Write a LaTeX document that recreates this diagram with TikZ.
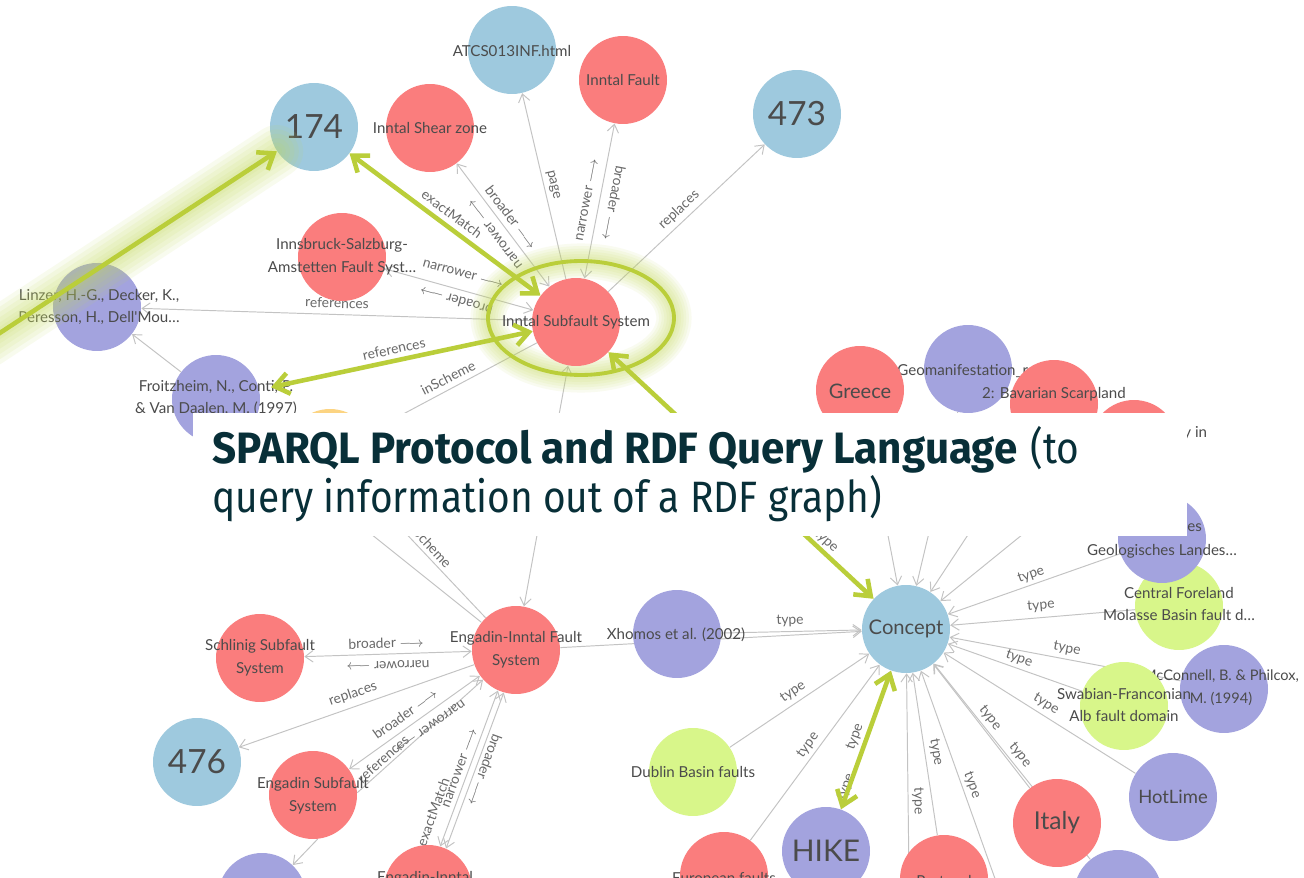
\documentclass[tikz,border=0pt]{standalone}
\usepackage{fontspec}
\newfontfamily\gfont{Lato}
\newfontfamily\sfontb[FakeStretch=0.96]{Fira Sans}
\newfontfamily\sfontr[FakeStretch=0.885]{Fira Sans}
\usetikzlibrary{arrows.meta}
\pgfdeclarelayer{bg}
\pgfsetlayers{bg,main}
\definecolor{nred}{RGB}{250,125,125}
\definecolor{nblue}{RGB}{158,201,222}
\definecolor{npurple}{RGB}{163,163,222}
\definecolor{ngreen}{RGB}{216,246,138}
\definecolor{norange}{RGB}{252,212,130}
\definecolor{ntext}{RGB}{75,75,75}
\definecolor{etext}{RGB}{105,105,105}
\definecolor{egray}{RGB}{195,195,195}
\definecolor{hlgreen}{RGB}{186,206,58}
\definecolor{glowgreen}{RGB}{195,218,90}
\definecolor{sparql}{RGB}{8,47,56}
\begin{document}
\begin{tikzpicture}[x=0.02cm,y=-0.02cm,
  nd/.style={circle, minimum size=1.76cm, inner sep=0pt},
  rednd/.style={nd, fill=nred},
  bluend/.style={nd, fill=nblue},
  purnd/.style={nd, fill=npurple},
  grnnd/.style={nd, fill=ngreen},
  orgnd/.style={nd, fill=norange},
  lbl/.style={text=ntext, align=center, inner sep=0pt, font=\gfont\fontsize{8.6}{13}\selectfont},
  big/.style={lbl, font=\gfont\fontsize{19}{22}\selectfont},
  elbl/.style={text=etext, inner sep=0pt, font=\gfont\fontsize{7.9}{9}\selectfont},
  edge/.style={draw=egray, line width=0.55pt, -{Straight Barb[length=4.5pt,width=6.5pt]}},
  edgeb/.style={draw=egray, line width=0.55pt, {Straight Barb[length=4.5pt,width=6.5pt]}-{Straight Barb[length=4.5pt,width=6.5pt]}},
  plainedge/.style={draw=egray, line width=0.55pt},
  hl/.style={draw=hlgreen, line width=2.6pt, -{Straight Barb[length=8pt,width=12pt]}},
  hlb/.style={draw=hlgreen, line width=2.6pt, {Straight Barb[length=8pt,width=12pt]}-{Straight Barb[length=8pt,width=12pt]}},
  glow/.style={draw=glowgreen, line cap=round, line join=round}
]
\useasboundingbox (0,0) rectangle (1304,878);

% ---------------- nodes ----------------
\node[bluend] (n174) at (314,127) {};
\node[big] (t174) at (n174) {174};
\node[rednd] (isz) at (430,128) {};
\node[lbl] (tisz) at (isz) {Inntal Shear zone};
\node[bluend] (atcs) at (512,50) {};
\node[lbl] (tatcs) at (512,51) {ATCS013INF.html};
\node[rednd] (ift) at (623,80) {};
\node[lbl] (tift) at (ift) {Inntal Fault};
\node[bluend] (n473) at (797,114) {};
\node[big] (t473) at (n473) {473};
\node[rednd] (isa) at (342,257) {};
\node[lbl] (tisa) at (342,257) {Innsbruck-Salzburg-\\Amstetten Fault Syst…};
\node[purnd] (linz) at (97,307) {};
\node[lbl] (tlinz) at (99,307) {Linzer, H.-G., Decker, K.,\\Peresson, H., Dell'Mou…};
\node[purnd] (froi) at (216,399) {};
\node[lbl] (tfroi) at (216,398) {Froitzheim, N., Conti, P.\\\& Van Daalen, M. (1997)};
\node[rednd] (iss) at (576,322) {};
\node[lbl] (tiss) at (iss) {Inntal Subfault System};
\node[orgnd] (orng) at (330,453) {};

\node[purnd] (geo) at (968,369) {};
\node[lbl, anchor=west] (tgeo) at (897,371) {Geomanifestation\_r};
\node[rednd] (greece) at (860,390) {};
\node[lbl, font=\gfont\fontsize{11.4}{13}\selectfont] (tgreece) at (860,391) {Greece};
\node[rednd] (bav) at (1054,404) {};
\node[lbl] (tbav) at (1054,394) {2: Bavarian Scarpland};
\node[rednd] (redy) at (1134,444) {};
\node[lbl, anchor=west] (tredy) at (1183,433) {y in};

\node[grnnd] (cfor) at (1179,606) {};
\node[lbl] (tcfor) at (1179,604) {Central Foreland\\Molasse Basin fault d…};
\node[purnd] (geol) at (1162,539) {};
\node[lbl, anchor=west] (tgeol1) at (1187,528) {es};
\node[lbl] (tgeol2) at (1162,551) {Geologisches Landes…};
\node[purnd] (mcc) at (1224,689) {};
\node[lbl, font=\gfont\fontsize{8.3}{13}\selectfont] (tmcc) at (1221,688) {McConnell, B. \& Philcox,\\M. (1994)};
\node[grnnd] (swab) at (1124,706) {};
\node[lbl] (tswab) at (1124,705) {Swabian-Franconian\\Alb fault domain};
\node[purnd] (hot) at (1173,797) {};
\node[lbl, font=\gfont\fontsize{10.5}{12}\selectfont] (thot) at (hot) {HotLime};
\node[rednd] (italy) at (1057,823) {};
\node[lbl, font=\gfont\fontsize{14}{16}\selectfont] (titaly) at (italy) {Italy};
\node[purnd] (bpr) at (1118,894) {};
\node[bluend] (concept) at (906,629) {};
\node[lbl, font=\gfont\fontsize{11.5}{13}\selectfont] (tconcept) at (concept) {Concept};
\node[purnd] (xho) at (677,634) {};
\node[lbl] (txho) at (676,635) {Xhomos et al. (2002)};
\node[grnnd] (dub) at (693,772) {};
\node[lbl] (tdub) at (dub) {Dublin Basin faults};
\node[purnd] (hike) at (826,851) {};
\node[lbl, font=\gfont\fontsize{17}{19}\selectfont] (thike) at (hike) {HIKE};
\node[rednd] (port) at (944,879) {};
\node[lbl] (tport) at (944,882) {Portugal};
\node[rednd] (euro) at (724,876) {};
\node[lbl] (teuro) at (724,879) {European faults};

\node[rednd] (eifs) at (516,650) {};
\node[lbl] (teifs) at (516,650) {Engadin-Inntal Fault\\System};
\node[rednd] (schl) at (260,658) {};
\node[lbl] (tschl) at (260,658) {Schlinig Subfault\\System};
\node[bluend] (n476) at (197,762) {};
\node[big] (t476) at (n476) {476};
\node[rednd] (esub) at (313,795) {};
\node[lbl] (tesub) at (313,796) {Engadin Subfault\\System};
\node[purnd] (bpl) at (262,897) {};
\node[rednd] (ei2) at (428,889) {};
\node[lbl] (tei2) at (425,878) {Engadin-Inntal};

\coordinate (offa) at (910,960);
\coordinate (offb) at (1024,960);
\coordinate (schx) at (291,470);
\coordinate (gstart) at (-20,346);

% ---------------- background: edges, labels, halo ----------------
\begin{pgfonlayer}{bg}
\fill[white] (0,0) rectangle (1304,878);
\draw[edgeb] (isz) -- (iss);
\draw[edge] (iss) -- (atcs);
\draw[edgeb] (iss) -- (ift);
\draw[edge] (iss) -- (n473);
\draw[edgeb] (isa) -- (iss);
\draw[edge] (iss) -- (linz);
\draw[edge] (froi) -- (linz);
\draw[edge] (iss) -- (orng);
\draw[edgeb] (eifs) -- (iss);
\draw[edge] (greece) -- (concept);
\draw[edge] (geo) -- (concept);
\draw[edge] (bav) -- (concept);
\draw[edge] (redy) -- (concept);
\draw[edge] (eifs) -- (orng);
\draw[plainedge] (eifs) -- (schx);
\draw[edgeb] (schl) -- (eifs);
\draw[edge] (eifs) -- (n476);
\draw[edgeb] (esub) -- (eifs);
\draw[edge] (esub.3) -- (eifs.222);
\draw[edge] (esub.-84) -- (bpl);
\draw[edgeb] (eifs.-106) -- (ei2.66);
\draw[edgeb] (eifs.-114) -- (ei2.74);
\draw[edge] (eifs) -- (concept);
\draw[edge] (xho) -- (concept);
\draw[edge] (geol) -- (concept);
\draw[edge] (cfor) -- (concept);
\draw[edge] (mcc) -- (concept);
\draw[edge] (swab) -- (concept);
\draw[edge] (hot) -- (concept);
\draw[edge] (italy) -- (concept);
\draw[edge] (bpr) -- (concept);
\draw[edge] (port) -- (concept);
\draw[edge] (offa) -- (concept);
\draw[edge] (offb) -- (concept);
\draw[edge] (euro) -- (concept);
\draw[edge] (dub) -- (concept);
\draw[edge] (hike) -- (concept);

\node[elbl, rotate=-53] (l1) at (511,217) {broader $\longrightarrow$};
\node[elbl, rotate=127] (l2) at (495,234) {narrower $\longrightarrow$};
\node[elbl, rotate=-37] (l3) at (452,214) {exactMatch};
\node[elbl, rotate=-77] (l4) at (553,185) {page};
\node[elbl, rotate=79] (l5) at (587,200) {narrower $\longrightarrow$};
\node[elbl, rotate=-101] (l6) at (614,203) {broader $\longrightarrow$};
\node[elbl, rotate=43] (l7) at (679,210) {replaces};
\node[elbl, rotate=-15.5] (l8) at (463,274) {narrower $\longrightarrow$};
\node[elbl, rotate=164.5] (l9) at (456,301) {broader $\longrightarrow$};
\node[elbl, rotate=-1.8] (l10) at (337,303) {references};
\node[elbl, rotate=12] (l11) at (394,349) {references};
\node[elbl, rotate=27] (l12) at (448,378) {inScheme};
\node[elbl, rotate=-43] (l13) at (826,541) {type};
\node[elbl, rotate=-47] (l14) at (429,544) {inScheme};
\node[elbl, rotate=1.8] (l15) at (386,643) {broader $\longrightarrow$};
\node[elbl, rotate=181.8] (l16) at (388,665) {narrower $\longrightarrow$};
\node[elbl, rotate=19] (l17) at (353,694) {replaces};
\node[elbl, rotate=35.5] (l18) at (405,714) {broader $\longrightarrow$};
\node[elbl, rotate=215.5] (l19) at (430,726) {narrower $\longrightarrow$};
\node[elbl, rotate=42] (l20) at (383,759) {references};
\node[elbl, rotate=70] (l21) at (433,812) {exactMatch};
\node[elbl, rotate=70] (l22) at (460,768) {narrower $\longrightarrow$};
\node[elbl, rotate=-110] (l23) at (485,770) {broader $\longrightarrow$};
\node[elbl, rotate=2] (l24) at (790,621) {type};
\node[elbl, rotate=19.4] (l25) at (1031,575) {type};
\node[elbl, rotate=4.8] (l26) at (1041,606) {type};
\node[elbl, rotate=-10.7] (l27) at (1067,649) {type};
\node[elbl, rotate=-19.5] (l28) at (1019,659) {type};
\node[elbl, rotate=-32] (l29) at (1046,704) {type};
\node[elbl, rotate=-52] (l30) at (990,718) {type};
\node[elbl, rotate=-52] (l31) at (1020,755) {type};
\node[elbl, rotate=-81] (l32) at (936,752) {type};
\node[elbl, rotate=-70] (l33) at (972,785) {type};
\node[elbl, rotate=-89] (l34) at (918,801) {type};
\node[elbl, rotate=53.6] (l35) at (808,745) {type};
\node[elbl, rotate=34] (l36) at (793,692) {type};
\node[elbl, rotate=70] (l37) at (855,737) {type};
\node[elbl, rotate=70] (l38) at (846,787) {type};

% halo ellipse
\foreach \w in {20,17,14,11,8,5}
  \draw[glow, line width=\w pt, opacity=0.09] (581,318) ellipse [x radius=1.86cm, y radius=1.14cm];
\draw[hlgreen, line width=2.2pt] (581,318) ellipse [x radius=1.86cm, y radius=1.14cm];
\end{pgfonlayer}

% ---------------- highlighted green connectors ----------------
\foreach \w in {30,25,20,15,10,6}
  \draw[glow, line width=\w pt, opacity=0.10] (gstart) -- (n174);
\draw[hl] (gstart) -- (n174);
\draw[hlb] (iss) -- (n174);
\draw[hlb, shorten >=0.24cm] (iss) -- (froi);
\draw[hlb] (iss) -- (concept);
\draw[hlb] (hike) -- (concept);

% ---------------- caption box ----------------
\node[fill=white, inner sep=0pt, minimum width=19.88cm, minimum height=2.46cm, anchor=north west] (box) at (193,413) {};
\node[anchor=base west, inner sep=0pt, text=sparql, font=\fontsize{25}{29}\selectfont] (cap1) at (212,463) {{\sfontb\bfseries SPARQL Protocol and RDF Query Language} {\sfontr(to}};
\node[anchor=base west, inner sep=0pt, text=sparql, font=\sfontr\fontsize{25}{29}\selectfont] (cap2) at (212,512) {query information out of a RDF graph)};
\end{tikzpicture}
\end{document}
